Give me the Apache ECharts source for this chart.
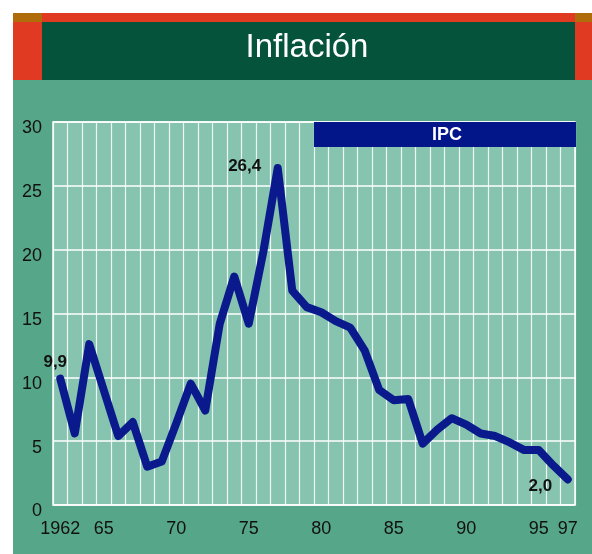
<!DOCTYPE html>
<html>
<head>
<meta charset="utf-8">
<script src="https://cdn.jsdelivr.net/npm/echarts@6/dist/echarts.min.js"></script>
<style>
  html, body { margin: 0; padding: 0; background: #fff; }
  #main { width: 592px; height: 554px; }
</style>
</head>
<body>
<div id="main"></div>
<script>
// años del IPC
var years = ['1962', '1963', '1964', '1965', '1966', '1967', '1968', '1969', '1970', '1971',
             '1972', '1973', '1974', '1975', '1976', '1977', '1978', '1979', '1980', '1981',
             '1982', '1983', '1984', '1985', '1986', '1987', '1988', '1989', '1990', '1991',
             '1992', '1993', '1994', '1995', '1996', '1997'];
// inflación anual (%)
var ipc = [9.9, 5.6, 12.6, 9.0, 5.4, 6.5, 3.0, 3.4, 6.4, 9.5,
           7.4, 14.2, 17.9, 14.2, 19.8, 26.4, 16.8, 15.5, 15.1, 14.4,
           13.9, 12.1, 9.0, 8.2, 8.3, 4.8, 5.9, 6.8, 6.3, 5.6,
           5.4, 4.9, 4.3, 4.3, 3.1, 2.0];
// etiquetas del eje X
var xLabelYears = ['1962', '1965', '1970', '1975', '1980', '1985', '1990', '1995', '1997'];
var xLabelText = ['1962', '65', '70', '75', '80', '85', '90', '95', '97'];
// puntos con valor escrito
var labelYears = ['1962', '1977', '1997'];

var font = "'Liberation Sans', Arial, sans-serif";
var labelOffsets = { '1962': { position: 'top', offset: [-5, -2] },
                     '1977': { position: 'left', offset: [-11, -2] },
                     '1997': { position: 'left', offset: [-10, 7] } };

var seriesData = ipc.map(function (v, i) {
  var y = years[i];
  if (labelYears.indexOf(y) < 0) return v;
  return {
    value: v,
    label: {
      show: true,
      position: labelOffsets[y].position,
      offset: labelOffsets[y].offset,
      formatter: function (p) { return p.value.toFixed(1).replace('.', ','); },
      fontFamily: font,
      fontWeight: 'bold',
      fontSize: 17,
      color: '#111'
    }
  };
});

var chart = echarts.init(document.getElementById('main'));

chart.setOption({
  backgroundColor: '#56a68a',
  animation: false,
  title: {
    text: 'Inflación',
    left: 307,
    top: 31,
    padding: 0,
    textAlign: 'center',
    textStyle: {
      color: '#ffffff',
      fontFamily: font,
      fontWeight: 'normal',
      fontSize: 33,
      lineHeight: 33
    }
  },
  graphic: [
    { type: 'rect', shape: { x: 0, y: 0, width: 592, height: 13 }, style: { fill: '#ffffff' } },
    { type: 'rect', shape: { x: 0, y: 0, width: 13, height: 554 }, style: { fill: '#ffffff' } },
    { type: 'rect', shape: { x: 13, y: 13, width: 29, height: 9 }, style: { fill: '#b06c08' } },
    { type: 'rect', shape: { x: 42, y: 13, width: 533, height: 9 }, style: { fill: '#e03a22' } },
    { type: 'rect', shape: { x: 575, y: 13, width: 17, height: 9 }, style: { fill: '#b06c08' } },
    { type: 'rect', shape: { x: 13, y: 22, width: 29, height: 58 }, style: { fill: '#e03a22' } },
    { type: 'rect', shape: { x: 42, y: 22, width: 533, height: 58 }, style: { fill: '#04533a' } },
    { type: 'rect', shape: { x: 575, y: 22, width: 17, height: 58 }, style: { fill: '#e03a22' } }
  ],
  legend: {
    data: ['IPC'],
    left: 314,
    top: 122,
    selectedMode: false,
    backgroundColor: '#02168a',
    padding: [3, 114, 2, 113],
    itemWidth: 0,
    itemHeight: 0,
    icon: 'rect',
    textStyle: {
      color: '#ffffff',
      fontFamily: font,
      fontWeight: 'bold',
      fontSize: 18,
      lineHeight: 20
    }
  },
  grid: {
    left: 53,
    right: 17,
    top: 122,
    bottom: 49,
    show: true,
    backgroundColor: '#86c4af',
    borderColor: '#ffffff',
    borderWidth: 1.5
  },
  xAxis: {
    type: 'category',
    data: years,
    boundaryGap: true,
    axisLine: { show: false },
    axisTick: { show: false },
    axisLabel: {
      interval: function (i, v) { return xLabelYears.indexOf(v) >= 0; },
      formatter: function (v) { return xLabelText[xLabelYears.indexOf(v)]; },
      margin: 15,
      color: '#111',
      fontFamily: font,
      fontSize: 18
    },
    splitLine: {
      show: true,
      interval: 0,
      lineStyle: { color: 'rgba(255,255,255,0.85)', width: 1.2 }
    }
  },
  yAxis: {
    type: 'value',
    min: 0,
    max: 30,
    interval: 5,
    axisLine: { show: false },
    axisTick: { show: false },
    axisLabel: {
      margin: 11,
      verticalAlign: 'top',
      lineHeight: 13,
      color: '#111',
      fontFamily: font,
      fontSize: 18
    },
    splitLine: {
      lineStyle: { color: '#ffffff', width: 1.5 }
    }
  },
  series: [{
    name: 'IPC',
    type: 'line',
    data: seriesData,
    showSymbol: true,
    symbol: 'circle',
    symbolSize: 1,
    color: '#0a1a8c',
    itemStyle: { color: '#0a1a8c' },
    lineStyle: { color: '#0a1a8c', width: 8, cap: 'round', join: 'round' },
    z: 5
  }]
});
</script>
</body>
</html>
